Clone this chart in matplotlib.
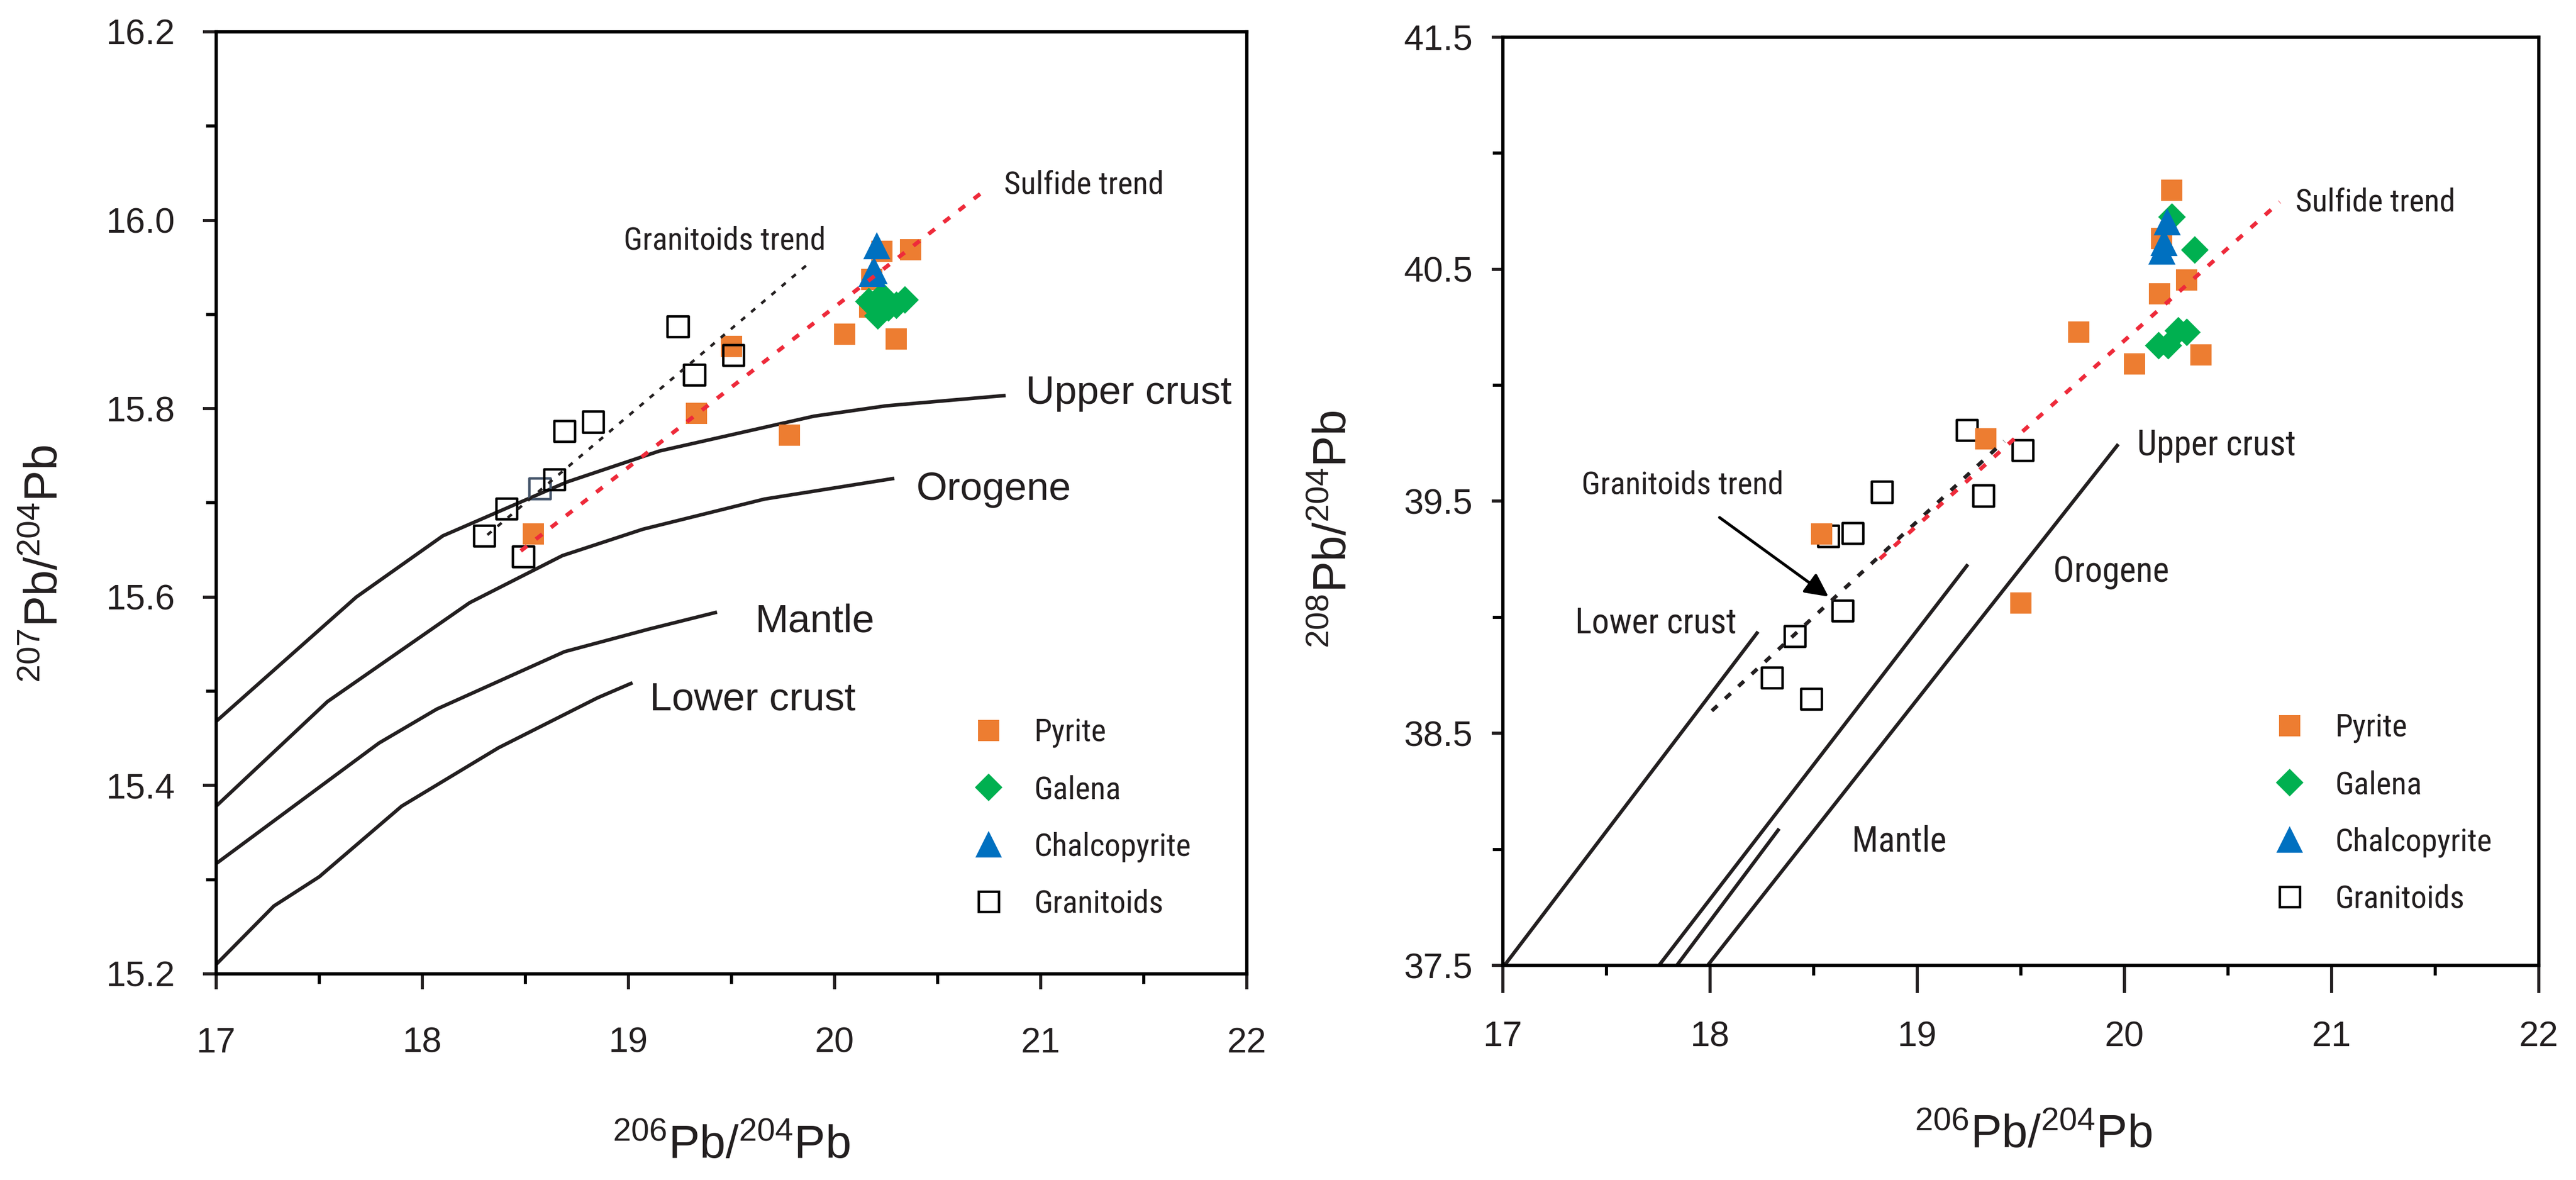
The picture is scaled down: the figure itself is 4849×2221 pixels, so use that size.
import matplotlib
matplotlib.use('Agg')
import matplotlib.pyplot as plt
from matplotlib import font_manager
from matplotlib.lines import Line2D
from matplotlib.ticker import MultipleLocator, FixedLocator, FormatStrFormatter

names = {f.name for f in font_manager.fontManager.ttflist}
SANS = 'Liberation Sans'
NARROW, NS = SANS, 0.84
for cand, scale in [('Liberation Sans Narrow', 1.0), ('Arial Narrow', 1.0),
                    ('Roboto Condensed', 0.9)]:
    if cand in names:
        NARROW, NS = cand, scale
        break

plt.rcParams['font.family'] = [SANS, 'DejaVu Sans']
plt.rcParams['mathtext.fontset'] = 'custom'
plt.rcParams['mathtext.rm'] = SANS
plt.rcParams['mathtext.it'] = SANS + ':italic'
plt.rcParams['mathtext.bf'] = SANS + ':bold'

# ---- sample data (206Pb/204Pb shared by both panels) ----
pyrite_206 = [18.54, 19.33, 19.50, 19.78, 20.05, 20.17, 20.18, 20.23, 20.30, 20.37]
pyrite_207 = [15.667, 15.795, 15.866, 15.772, 15.879, 15.908, 15.937, 15.967, 15.874, 15.969]
pyrite_208 = [39.360, 39.769, 39.061, 40.229, 40.091, 40.394, 40.632, 40.841, 40.453, 40.130]

galena_206 = [20.165, 20.21, 20.23, 20.26, 20.30, 20.34]
galena_207 = [15.914, 15.899, 15.920, 15.907, 15.910, 15.916]
galena_208 = [40.172, 40.172, 40.726, 40.237, 40.229, 40.583]

chalco_206 = [20.205, 20.19, 20.18]
chalco_207 = [15.973, 15.947, 15.944]
chalco_208 = [40.706, 40.616, 40.580]

granit_206 = [18.30, 18.41, 18.49, 18.57, 18.64, 18.69, 18.83, 19.24, 19.32, 19.51]
granit_207 = [15.665, 15.694, 15.643, 15.715, 15.725, 15.776, 15.786, 15.887, 15.836, 15.857]
granit_208 = [38.739, 38.919, 38.649, 39.350, 39.029, 39.363, 39.540, 39.807, 39.524, 39.720]

# ---- growth curves, 207/204 ----
upper_206 = [17.0, 17.68, 18.1, 18.7, 19.15, 19.9, 20.25, 20.83]
upper_207 = [15.468, 15.600, 15.665, 15.722, 15.755, 15.792, 15.803, 15.814]
orogene_206 = [17.0, 17.54, 18.23, 18.68, 19.07, 19.66, 20.29]
orogene_207 = [15.378, 15.489, 15.594, 15.644, 15.672, 15.704, 15.726]
mantle_206 = [17.0, 17.79, 18.07, 18.69, 19.10, 19.43]
mantle_207 = [15.317, 15.445, 15.481, 15.542, 15.566, 15.584]
lower_206 = [17.0, 17.28, 17.5, 17.9, 18.37, 18.85, 19.02]
lower_207 = [15.21, 15.272, 15.303, 15.378, 15.44, 15.493, 15.509]

# ---- growth curves, 208/204 ----
lower_206b = [17.008, 18.232]
lower_208 = [37.5, 38.938]
orogene_206b = [17.754, 19.245]
orogene_208 = [37.5, 39.228]
mantle_206b = [17.84, 18.334]
mantle_208 = [37.5, 38.089]
upper_206b = [17.989, 19.971]
upper_208 = [37.5, 39.746]

# ---- trend lines ----
gtrend_206 = [18.316, 19.89]
gtrend_207 = [15.666, 15.957]
strend_206 = [18.478, 20.73]
strend_207 = [15.649, 16.032]
gtrend_206b = [18.009, 19.42]
gtrend_208 = [38.597, 39.759]
strend_206b = [18.82, 20.75]
strend_208 = [39.252, 40.79]

# ---- axis ticks ----
ticks_207 = [15.2, 15.4, 15.6, 15.8, 16.0, 16.2]
minor_207 = [15.3, 15.5, 15.7, 15.9, 16.1]
ticks_208 = [37.5, 38.5, 39.5, 40.5, 41.5]
minor_208 = [38.0, 39.0, 40.0, 41.0]

ORANGE = '#ED7D31'
GREEN = '#00B050'
BLUE = '#0070C0'
RED = '#EE2A3A'
INK = '#231F20'

fig = plt.figure(figsize=(4849 / 300, 2221 / 300), dpi=300)
ax1 = fig.add_axes([0.0839, 0.1747, 0.4001, 0.7983])
ax2 = fig.add_axes([0.5834, 0.1819, 0.4021, 0.7866])


def style_axes(ax, ylim, yticks, yminor, xlen, xpad, ylen, ypad):
    ax.set_xlim(17, 22)
    ax.set_ylim(*ylim)
    ax.xaxis.set_major_locator(MultipleLocator(1))
    ax.xaxis.set_minor_locator(MultipleLocator(0.5))
    ax.yaxis.set_major_locator(FixedLocator(yticks))
    ax.yaxis.set_minor_locator(FixedLocator(yminor))
    ax.yaxis.set_major_formatter(FormatStrFormatter('%.1f'))
    for s in ax.spines.values():
        s.set_linewidth(1.5)
        s.set_color('black')
    ax.tick_params(axis='x', which='major', direction='out', length=xlen, width=1.4,
                   pad=xpad, labelsize=16, colors=INK)
    ax.tick_params(axis='x', which='minor', direction='out', length=4.5, width=1.4)
    ax.tick_params(axis='y', which='major', direction='out', length=ylen, width=1.4,
                   pad=ypad, labelsize=16, colors=INK)
    ax.tick_params(axis='y', which='minor', direction='out', length=4.5, width=1.4)


style_axes(ax1, (15.2, 16.2), ticks_207, minor_207, 7, 17, 6, 12.5)
style_axes(ax2, (37.5, 41.5), ticks_208, minor_208, 12.5, 12.5, 5, 8.5)

ax1.set_xlabel(r'$^{206}$Pb/$^{204}$Pb', fontsize=21, color=INK)
ax1.set_ylabel(r'$^{207}$Pb/$^{204}$Pb', fontsize=21, color=INK)
ax2.set_xlabel(r'$^{206}$Pb/$^{204}$Pb', fontsize=21, color=INK)
ax2.set_ylabel(r'$^{208}$Pb/$^{204}$Pb', fontsize=21, color=INK)
ax1.xaxis.set_label_coords(0.5, -0.16)
ax2.xaxis.set_label_coords(0.512, -0.16)
ax1.yaxis.set_label_coords(-0.145, 0.435)
ax2.yaxis.set_label_coords(-0.142, 0.47)

curve_kw = dict(color=INK, lw=1.6, zorder=1, solid_capstyle='butt')

# ---- left panel ----
for xs, ys in [(upper_206, upper_207), (orogene_206, orogene_207),
               (mantle_206, mantle_207), (lower_206, lower_207)]:
    ax1.plot(xs, ys, **curve_kw)

ax1.scatter(pyrite_206, pyrite_207, marker='s', s=95, color=ORANGE, lw=0, zorder=2)
ax1.scatter(galena_206, galena_207, marker='D', s=78, color=GREEN, lw=0, zorder=2)
ax1.scatter(chalco_206, chalco_207, marker='^', s=150, color=BLUE, lw=0, zorder=2)
gcols = ['black'] * len(granit_206)
gcols[3] = '#44546A'
ax1.scatter(granit_206, granit_207, marker='s', s=88, facecolor='none',
            edgecolor=gcols, lw=1.1, zorder=2.5)

ax1.plot(gtrend_206, gtrend_207, color=INK, lw=1.2, dashes=(2, 3), zorder=3)
ax1.plot(strend_206, strend_207, color=RED, lw=1.8, dashes=(2, 2.8), zorder=3)

ax1.text(18.977, 15.969, 'Granitoids trend', family=NARROW, fontsize=16 * NS, color=INK)
ax1.text(20.822, 16.028, 'Sulfide trend', family=NARROW, fontsize=16 * NS, color=INK)
ax1.text(20.928, 15.805, 'Upper crust', fontsize=18, color=INK)
ax1.text(20.396, 15.703, 'Orogene', fontsize=18, color=INK)
ax1.text(19.616, 15.563, 'Mantle', fontsize=18, color=INK)
ax1.text(19.103, 15.480, 'Lower crust', fontsize=18, color=INK)

# ---- right panel ----
for xs, ys in [(lower_206b, lower_208), (orogene_206b, orogene_208),
               (mantle_206b, mantle_208), (upper_206b, upper_208)]:
    ax2.plot(xs, ys, **curve_kw)

ax2.scatter(granit_206, granit_208, marker='s', s=88, facecolor='none',
            edgecolor='black', lw=1.1, zorder=2)
ax2.scatter(pyrite_206, pyrite_208, marker='s', s=95, color=ORANGE, lw=0, zorder=2.2)
ax2.scatter(galena_206, galena_208, marker='D', s=78, color=GREEN, lw=0, zorder=2.3)
ax2.scatter(chalco_206, chalco_208, marker='^', s=150, color=BLUE, lw=0, zorder=2.4)

ax2.plot(gtrend_206b, gtrend_208, color=INK, lw=1.7, dashes=(2, 2.8), zorder=3)
ax2.plot(strend_206b, strend_208, color=RED, lw=1.8, dashes=(2, 2.8), zorder=3.1)

ax2.annotate('', xy=(18.572, 39.089), xytext=(18.046, 39.430),
             arrowprops=dict(arrowstyle='-|>', color='black', lw=1.3,
                             mutation_scale=22, shrinkA=0, shrinkB=0))

ax2.text(17.381, 39.531, 'Granitoids trend', family=NARROW, fontsize=16 * NS, color=INK)
ax2.text(20.826, 40.75, 'Sulfide trend', family=NARROW, fontsize=16 * NS, color=INK)
ax2.text(20.061, 39.698, 'Upper crust', family=NARROW, fontsize=17.5 * NS, color=INK)
ax2.text(19.657, 39.151, 'Orogene', family=NARROW, fontsize=17.5 * NS, color=INK)
ax2.text(18.684, 37.992, 'Mantle', family=NARROW, fontsize=17.5 * NS, color=INK)
ax2.text(17.349, 38.932, 'Lower crust', family=NARROW, fontsize=17.5 * NS, color=INK)

# ---- legends ----
handles = [
    Line2D([], [], ls='none', marker='s', ms=9.7, mfc=ORANGE, mec=ORANGE, mew=0),
    Line2D([], [], ls='none', marker='D', ms=8.8, mfc=GREEN, mec=GREEN, mew=0),
    Line2D([], [], ls='none', marker='^', ms=12, mfc=BLUE, mec=BLUE, mew=0),
    Line2D([], [], ls='none', marker='s', ms=9.3, mfc='none', mec='black', mew=1.1),
]
labels = ['Pyrite', 'Galena', 'Chalcopyrite', 'Granitoids']
leg_size = 16 * NS
leg_space = (25.4 - 0.93 * leg_size) / leg_size
for ax, anchor in [(ax1, (0.734, 0.272)), (ax2, (0.744, 0.272))]:
    leg = ax.legend(handles, labels, loc='upper left', bbox_to_anchor=anchor,
                    frameon=False, borderpad=0, borderaxespad=0,
                    handlelength=1.0, handletextpad=0.84 * 16 / leg_size,
                    labelspacing=leg_space,
                    prop={'family': NARROW, 'size': leg_size})
    for t in leg.get_texts():
        t.set_color(INK)

fig.savefig('out.png', dpi=300, facecolor='white')
